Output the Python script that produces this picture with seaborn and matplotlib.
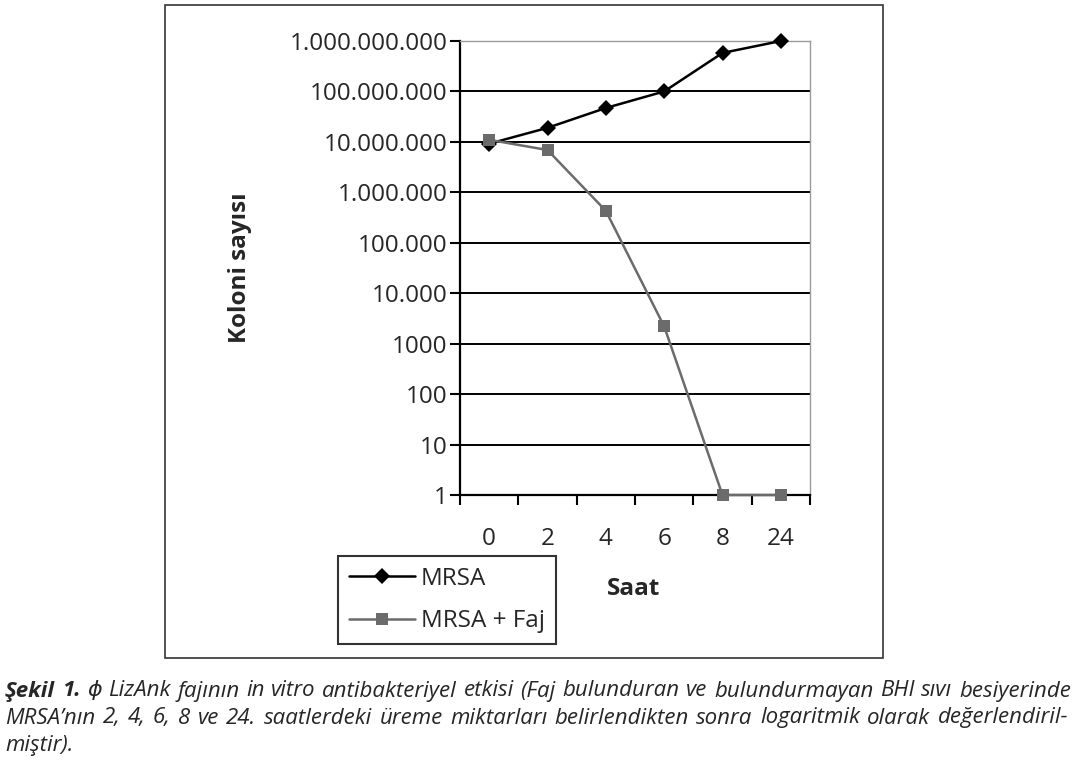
import numpy as np
import pandas as pd
import matplotlib
matplotlib.use("Agg")
import matplotlib.pyplot as plt
from matplotlib.patches import Rectangle
import seaborn as sns

# Data
hours = ["0", "2", "4", "6", "8", "24"]
mrsa = [9.2e6, 1.9e7, 4.7e7, 1.0e8, 5.8e8, 1.0e9]
mrsa_faj = [1.1e7, 6.9e6, 4.3e5, 2.2e3, 1, 1]
series_names = ["MRSA", "MRSA + Faj"]
ytick_vals = [1, 10, 100, 1e3, 1e4, 1e5, 1e6, 1e7, 1e8, 1e9]
ytick_labels = ["1", "10", "100", "1000", "10.000", "100.000",
                "1.000.000", "10.000.000", "100.000.000", "1.000.000.000"]

caption_1 = [("Şekil", "bold"), ("1.", "bold"), ("ϕ", "normal"), ("LizAnk", "normal"),
             ("fajının", "normal"), ("in", "normal"), ("vitro", "normal"),
             ("antibakteriyel", "normal"), ("etkisi", "normal"), ("(Faj", "normal"),
             ("bulunduran", "normal"), ("ve", "normal"), ("bulundurmayan", "normal"),
             ("BHI", "normal"), ("sıvı", "normal"), ("besiyerinde", "normal")]
caption_2 = "MRSA’nın 2, 4, 6, 8 ve 24. saatlerdeki üreme miktarları belirlendikten sonra logaritmik olarak değerlendiril-"
caption_3 = "miştir)."

df = pd.DataFrame({
    "pos": list(range(len(hours))) * 2,
    "count": mrsa + mrsa_faj,
    "group": [series_names[0]] * len(hours) + [series_names[1]] * len(hours),
})

sns.set_theme(style="white")
plt.rcParams["font.family"] = ["Open Sans", "DejaVu Sans"]

W, H = 1080, 764
fig = plt.figure(figsize=(W / 100, H / 100), dpi=100)
ax = fig.add_axes([460 / W, 1 - 495 / H, 350 / W, 454 / H])

sns.lineplot(data=df, x="pos", y="count", hue="group", style="group", ax=ax,
             palette={"MRSA": "black", "MRSA + Faj": "#6b6b6b"},
             markers={"MRSA": "D", "MRSA + Faj": "s"}, dashes=False,
             markersize=8.2, linewidth=1.8, markeredgewidth=0, clip_on=False,
             zorder=5)

ax.set_yscale("log")
ax.set_ylim(1, 1e9)
ax.set_xlim(-0.5, len(hours) - 0.5)

ax.set_yticks(ytick_vals)
ax.set_yticklabels(ytick_labels)
ax.yaxis.set_minor_locator(matplotlib.ticker.NullLocator())
ax.tick_params(axis="y", which="major", direction="out", length=7, width=1.5,
               color="black", pad=2, labelsize=17.5, left=True)

ax.set_xticks(range(len(hours)))
ax.set_xticklabels(hours)
ax.set_xticks(np.arange(-0.5, len(hours)), minor=True)
ax.tick_params(axis="x", which="major", length=0, pad=23, labelsize=17.5)
ax.tick_params(axis="x", which="minor", direction="out", length=7, width=1.5,
               color="black", bottom=True)

ax.grid(False)
for v in ytick_vals[1:-1]:
    ax.axhline(v, color="black", lw=1.4, zorder=1)

for side in ["left", "bottom"]:
    ax.spines[side].set_color("black")
    ax.spines[side].set_linewidth(1.6)
for side in ["top", "right"]:
    ax.spines[side].set_color("#9a9a9a")
    ax.spines[side].set_linewidth(1.0)
ax.set_facecolor("white")

ax.set_ylabel("Koloni sayısı", fontsize=17.5, fontweight="bold")
ax.yaxis.set_label_coords(-0.594, 0.5)
ax.set_xlabel("Saat", fontsize=17.5, fontweight="bold")
ax.xaxis.set_label_coords(0.497, -0.18)

handles, labels = ax.get_legend_handles_labels()
leg = ax.legend(handles, labels, loc="upper left",
                bbox_to_anchor=(338 / W, 1 - 556 / H), bbox_transform=fig.transFigure,
                fontsize=17.5, frameon=True, fancybox=False, shadow=False,
                handlelength=2.7, handletextpad=0.25, labelspacing=0.75,
                borderpad=0.45, borderaxespad=0)
leg.get_frame().set_edgecolor("black")
leg.get_frame().set_linewidth(1.5)
for h in leg.legend_handles:
    h.set_markersize(8)

# outer frame around the chart
fig.patches.append(Rectangle((165 / W, 1 - 658 / H), (883 - 165) / W, (658 - 5) / H,
                             transform=fig.transFigure, fill=False,
                             edgecolor="#333333", lw=1.2))

# caption, justified like in the journal
cap_kw = dict(fontsize=16, style="italic", va="center", ha="left")
renderer = fig.canvas.get_renderer()


def justify(words, y, x0, x1):
    texts = [fig.text(0, 1 - y / H, w, fontweight=wt, **cap_kw) for w, wt in words]
    widths = [t.get_window_extent(renderer).width for t in texts]
    gap = (x1 - x0 - sum(widths)) / (len(texts) - 1)
    x = x0
    for t, w in zip(texts, widths):
        t.set_x(x / W)
        x += w + gap


justify(caption_1, 691, 5, 1071)
justify([(w, "normal") for w in caption_2.split()], 718, 5, 1068)
fig.text(5 / W, 1 - 745 / H, caption_3, **cap_kw)

fig.savefig("out.png", dpi=100)
